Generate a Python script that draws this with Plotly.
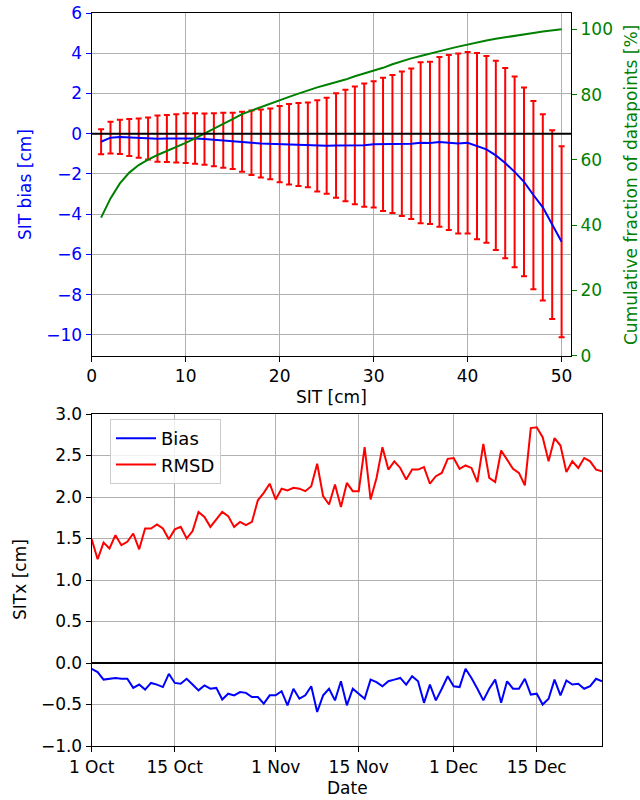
import plotly.graph_objects as go
import pandas as pd

# ---- Top panel data: SIT bins ----
sit_bins = list(range(1, 51))
sit_bias = [-0.40, -0.20, -0.16, -0.19, -0.22, -0.24, -0.25, -0.24, -0.23, -0.22,
            -0.24, -0.27, -0.30, -0.33, -0.36, -0.40, -0.45, -0.49, -0.51, -0.52,
            -0.53, -0.54, -0.56, -0.61, -0.60, -0.59, -0.59, -0.58, -0.57, -0.53,
            -0.53, -0.51, -0.50, -0.50, -0.45, -0.46, -0.41, -0.44, -0.49, -0.45,
            -0.62, -0.78, -1.08, -1.46, -1.90, -2.40, -3.05, -3.66, -4.52, -5.37]
sit_std = [0.62, 0.79, 0.85, 0.92, 0.98, 1.05, 1.15, 1.17, 1.20, 1.24,
           1.26, 1.27, 1.32, 1.37, 1.40, 1.49, 1.60, 1.69, 1.76, 1.90,
           2.00, 2.06, 2.11, 2.27, 2.39, 2.60, 2.77, 2.93, 3.07, 3.14,
           3.31, 3.43, 3.59, 3.74, 4.00, 4.03, 4.22, 4.35, 4.48, 4.51,
           4.63, 4.64, 4.70, 4.73, 4.74, 4.69, 4.68, 4.63, 4.69, 4.75]
cum_frac = [42.3, 48.2, 52.8, 56.1, 58.4, 60.1, 61.5, 62.7, 64.0, 65.2,
            66.6, 68.0, 69.5, 71.0, 72.5, 74.0, 75.1, 76.2, 77.3, 78.3,
            79.3, 80.3, 81.3, 82.2, 83.0, 83.7, 84.6, 85.6, 86.4, 87.2,
            88.2, 89.3, 90.3, 91.1, 91.8, 92.6, 93.3, 94.0, 94.7, 95.4,
            96.0, 96.6, 97.1, 97.6, 98.0, 98.5, 98.9, 99.3, 99.7, 100.0]

# ---- Bottom panel data: daily time series ----
dates = pd.date_range("2019-10-01", "2019-12-26", freq="D")
bias_daily = [-0.07, -0.11, -0.20, -0.19, -0.18, -0.19, -0.19, -0.30, -0.26, -0.32,
              -0.24, -0.26, -0.29, -0.13, -0.24, -0.25, -0.19, -0.26, -0.33, -0.27,
              -0.31, -0.30, -0.44, -0.37, -0.39, -0.35, -0.36, -0.41, -0.41, -0.49,
              -0.39, -0.39, -0.34, -0.51, -0.31, -0.43, -0.39, -0.28, -0.59, -0.39,
              -0.31, -0.45, -0.22, -0.51, -0.31, -0.37, -0.43, -0.20, -0.23, -0.28,
              -0.22, -0.20, -0.18, -0.26, -0.16, -0.22, -0.48, -0.26, -0.45, -0.31,
              -0.16, -0.28, -0.29, -0.07, -0.18, -0.31, -0.45, -0.31, -0.20, -0.48,
              -0.22, -0.31, -0.31, -0.19, -0.38, -0.37, -0.50, -0.43, -0.20, -0.39,
              -0.21, -0.26, -0.25, -0.31, -0.28, -0.19, -0.22]
rmsd_daily = [1.49, 1.25, 1.45, 1.38, 1.54, 1.42, 1.46, 1.56, 1.37, 1.62,
              1.62, 1.67, 1.62, 1.49, 1.61, 1.64, 1.50, 1.59, 1.82, 1.76,
              1.64, 1.73, 1.82, 1.77, 1.64, 1.70, 1.66, 1.70, 1.96, 2.05,
              2.16, 1.97, 2.10, 2.08, 2.11, 2.10, 2.07, 2.13, 2.40, 2.01,
              1.91, 2.15, 1.88, 2.17, 2.07, 2.07, 2.60, 1.97, 2.23, 2.60,
              2.33, 2.43, 2.35, 2.21, 2.33, 2.33, 2.36, 2.16, 2.25, 2.29,
              2.46, 2.47, 2.34, 2.38, 2.35, 2.18, 2.64, 2.23, 2.18, 2.56,
              2.45, 2.34, 2.29, 2.14, 2.83, 2.84, 2.72, 2.43, 2.71, 2.62,
              2.30, 2.43, 2.35, 2.47, 2.43, 2.33, 2.31]
date_ticks = ["2019-10-01", "2019-10-15", "2019-11-01", "2019-11-15", "2019-12-01", "2019-12-15"]
date_tick_labels = ["1 Oct", "15 Oct", "1 Nov", "15 Nov", "1 Dec", "15 Dec"]

BLUE = "#0000ff"
RED = "#ff0000"
GREEN = "#008000"
GRID = "#b0b0b0"
FS = 17
W, H = 640, 800

fig = go.Figure()
fig.add_trace(go.Scatter(
    x=sit_bins, y=sit_bias, mode="markers",
    marker=dict(color="rgba(0,0,0,0)", size=1),
    error_y=dict(type="data", array=sit_std, color=RED, thickness=2, width=3),
    xaxis="x", yaxis="y", showlegend=False, hoverinfo="skip"))
fig.add_trace(go.Scatter(
    x=sit_bins, y=sit_bias, mode="lines", line=dict(color=BLUE, width=2),
    xaxis="x", yaxis="y", showlegend=False))
fig.add_trace(go.Scatter(
    x=sit_bins, y=cum_frac, mode="lines", line=dict(color=GREEN, width=2),
    xaxis="x", yaxis="y2", showlegend=False))
fig.add_trace(go.Scatter(
    x=dates, y=bias_daily, mode="lines", name="Bias", line=dict(color=BLUE, width=2),
    xaxis="x2", yaxis="y3"))
fig.add_trace(go.Scatter(
    x=dates, y=rmsd_daily, mode="lines", name="RMSD", line=dict(color=RED, width=2),
    xaxis="x2", yaxis="y3"))

x0 = 91.7 / W
x1_top = 571 / W
x1_bot = 602 / W
top_dom = [1 - 355.7 / H, 1 - 13 / H]
bot_dom = [1 - 746 / H, 1 - 414 / H]

common = dict(showgrid=True, gridcolor=GRID, gridwidth=1, zeroline=False,
              linecolor="black", linewidth=1.2, ticks="outside", ticklen=5,
              tickwidth=1.2, automargin=False)


def px_ann(text, xp, yp, color="black", angle=0):
    return dict(text=text, x=xp / W, y=1 - yp / H, xref="paper", yref="paper",
                showarrow=False, textangle=angle, xanchor="center", yanchor="middle",
                font=dict(color=color, size=FS))


fig.update_layout(
    width=W, height=H,
    margin=dict(l=0, r=0, t=0, b=0),
    paper_bgcolor="white", plot_bgcolor="white",
    font=dict(family="DejaVu Sans", size=FS, color="black"),
    xaxis=dict(domain=[x0, x1_top], anchor="y", range=[0, 51], tick0=0, dtick=10,
               mirror=True, tickcolor="black", **common),
    yaxis=dict(domain=top_dom, anchor="x", range=[-11.04, 6], tick0=0, dtick=2,
               tickcolor=BLUE, tickfont=dict(color=BLUE, size=FS), **common),
    yaxis2=dict(overlaying="y", anchor="x", side="right", range=[0, 105], tick0=0, dtick=20,
                showgrid=False, zeroline=False, linecolor="black", linewidth=1.2,
                ticks="outside", ticklen=5, tickwidth=1.2, tickcolor=GREEN,
                tickfont=dict(color=GREEN, size=FS), automargin=False),
    xaxis2=dict(domain=[x0, x1_bot], anchor="y3", type="date",
                range=[dates[0], dates[-1]], tickvals=date_ticks, ticktext=date_tick_labels,
                mirror=True, tickcolor="black", **common),
    yaxis3=dict(domain=bot_dom, anchor="x2", range=[-1, 3], tick0=0, dtick=0.5,
                tickformat=".1f", mirror=True, tickcolor="black", **common),
    legend=dict(x=110 / W, y=1 - 419 / H, xanchor="left", yanchor="top",
                bgcolor="rgba(255,255,255,0.8)", bordercolor="#cccccc", borderwidth=1,
                font=dict(size=FS + 1), itemwidth=40, tracegroupgap=0),
    annotations=[
        px_ann("SIT bias [cm]", 25, 185, BLUE, -90),
        px_ann("Cumulative fraction of datapoints [%]", 631, 185, GREEN, -90),
        px_ann("SIT [cm]", 331, 397),
        px_ann("SITx [cm]", 20, 580, "black", -90),
        px_ann("Date", 347, 788),
    ],
    shapes=[
        dict(type="line", xref="x domain", yref="y", x0=0, x1=1, y0=0, y1=0,
             line=dict(color="black", width=2), layer="above"),
        dict(type="line", xref="x2 domain", yref="y3", x0=0, x1=1, y0=0, y1=0,
             line=dict(color="black", width=2), layer="above"),
    ],
)

fig.write_html("out.html",
               config={"displayModeBar": False},
               post_script="document.body.style.margin='0';document.body.style.overflow='hidden';")
